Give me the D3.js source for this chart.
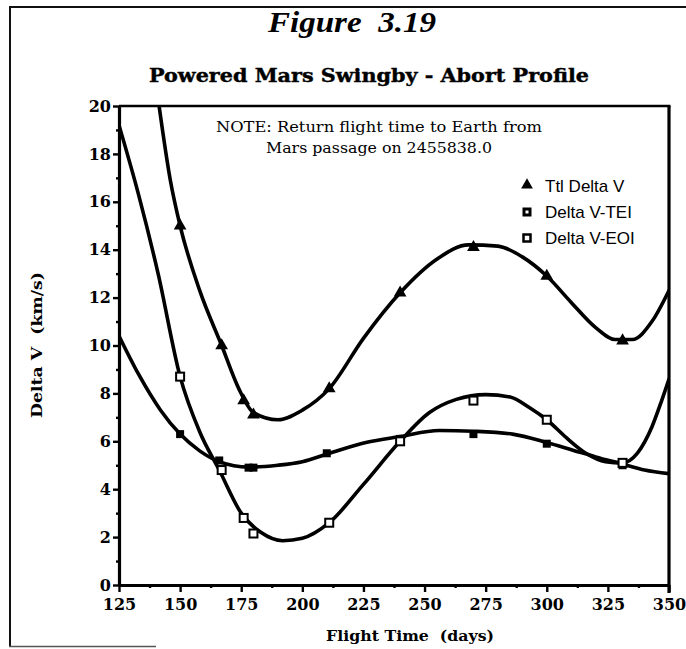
<!DOCTYPE html>
<html>
<head>
<meta charset="utf-8">
<script src="https://cdn.jsdelivr.net/npm/d3@7"></script>
<style>
  html, body { margin: 0; padding: 0; background: #fff; }
  svg { display: block; }
</style>
</head>
<body>
<svg id="chart" width="686" height="649"></svg>
<script>
// ---- Data ----
const xTicks = [125, 150, 175, 200, 225, 250, 275, 300, 325, 350];
const xMinorTicks = [137.5, 162.5, 187.5, 212.5, 237.5, 262.5, 287.5, 312.5, 337.5];
const yTicks = [0, 2, 4, 6, 8, 10, 12, 14, 16, 18, 20];
const yMinorTicks = [1, 3, 5, 7, 9, 11, 13, 15, 17, 19];

// Fitted curves (flight time in days, delta V in km/s)
const ttlCurveDays   = [141.4, 146, 150, 158, 167, 174, 180, 190, 200, 211, 225, 240, 255, 268, 280, 290, 300, 310, 320, 328, 335, 343, 350];
const ttlCurveValues = [20.0, 16.9, 15.0, 12.3, 10.0, 8.2, 7.2, 6.9, 7.3, 8.2, 10.3, 12.2, 13.6, 14.2, 14.15, 13.7, 12.9, 11.8, 10.75, 10.25, 10.25, 11.0, 12.3];

const teiCurveDays   = [125, 133, 142, 150, 158, 166, 178, 190, 200, 211, 226, 240, 256, 270, 286, 300, 311, 320, 331, 340, 350];
const teiCurveValues = [10.4, 8.8, 7.3, 6.3, 5.6, 5.15, 4.92, 5.0, 5.15, 5.5, 5.95, 6.2, 6.45, 6.42, 6.3, 5.95, 5.62, 5.35, 5.05, 4.8, 4.65];

const eoiCurveDays   = [125, 133, 141, 150, 158, 166, 175, 183, 192, 200, 211, 225, 240, 252, 263, 275, 285, 293, 300, 308, 316, 324, 331, 337, 343, 347, 350];
const eoiCurveValues = [19.2, 16.3, 13.0, 8.7, 6.4, 4.8, 3.0, 2.2, 1.85, 1.95, 2.6, 4.2, 6.0, 7.2, 7.75, 7.95, 7.85, 7.4, 6.9, 6.15, 5.5, 5.15, 5.1, 5.5, 6.6, 7.7, 8.6];

// Computed cases
const ttlPointDays   = [150, 167, 176, 180, 211, 240, 270, 300, 331];
const ttlPointValues = [15.0, 10.0, 7.7, 7.1, 8.2, 12.2, 14.1, 12.9, 10.2];
const teiPointDays   = [150, 166, 178, 180, 210, 240, 270, 300, 331];
const teiPointValues = [6.3, 5.2, 4.9, 4.9, 5.5, 6.1, 6.3, 5.9, 5.0];
const eoiPointDays   = [150, 167, 176, 180, 211, 240, 270, 300, 331];
const eoiPointValues = [8.7, 4.8, 2.8, 2.15, 2.6, 6.0, 7.7, 6.9, 5.1];

const legendLabels = ["Ttl Delta V", "Delta V-TEI", "Delta V-EOI"];

// ---- Layout ----
const svg = d3.select("#chart");
const serif = "'DejaVu Serif', 'Liberation Serif', serif";
const plotLeft = 119, plotRight = 669, plotTop = 106, plotBottom = 585;

const x = d3.scaleLinear().domain([125, 350]).range([plotLeft, plotRight]);
const y = d3.scaleLinear().domain([0, 20]).range([plotBottom, plotTop]);

// Outer frame of the figure
svg.append("line").attr("x1", 9).attr("x2", 686).attr("y1", 7).attr("y2", 7)
  .attr("stroke", "#111").attr("stroke-width", 2);
svg.append("line").attr("x1", 10).attr("x2", 10).attr("y1", 6).attr("y2", 647)
  .attr("stroke", "#111").attr("stroke-width", 2);
svg.append("line").attr("x1", 9).attr("x2", 156).attr("y1", 646.5).attr("y2", 646.5)
  .attr("stroke", "#555").attr("stroke-width", 1.5);

// Titles
svg.append("text").attr("x", 352).attr("y", 32).attr("text-anchor", "middle")
  .attr("font-family", "'Liberation Serif', 'Times New Roman', serif")
  .attr("font-style", "italic").attr("font-weight", "bold").attr("font-size", 30)
  .attr("textLength", 168).attr("lengthAdjust", "spacingAndGlyphs")
  .style("white-space", "pre")
  .text("Figure  3.19");

svg.append("text").attr("x", 369).attr("y", 82).attr("text-anchor", "middle")
  .attr("font-family", serif).attr("font-weight", "bold").attr("font-size", 18)
  .attr("stroke", "#000").attr("stroke-width", 0.4)
  .attr("textLength", 440).attr("lengthAdjust", "spacingAndGlyphs")
  .text("Powered Mars Swingby - Abort Profile");

// Note
svg.append("text").attr("x", 379).attr("y", 132).attr("text-anchor", "middle")
  .attr("font-family", serif).attr("font-size", 14)
  .attr("textLength", 326).attr("lengthAdjust", "spacingAndGlyphs")
  .text("NOTE: Return flight time to Earth from");
svg.append("text").attr("x", 379).attr("y", 153).attr("text-anchor", "middle")
  .attr("font-family", serif).attr("font-size", 14)
  .attr("textLength", 226).attr("lengthAdjust", "spacingAndGlyphs")
  .text("Mars passage on 2455838.0");

// ---- Axes ----
function styleAxis(g) {
  g.selectAll("path.domain").attr("stroke", "#000").attr("stroke-width", 3.2);
  g.selectAll(".tick line").attr("stroke", "#000").attr("stroke-width", 2.4);
  g.selectAll(".tick text").attr("font-family", serif).attr("font-weight", "bold")
    .attr("font-size", 16).attr("fill", "#000");
}

const yAxis = svg.append("g").attr("transform", `translate(${plotLeft},0)`)
  .call(d3.axisLeft(y).tickValues(yTicks).tickFormat(d3.format("d")).tickSize(6).tickSizeOuter(0).tickPadding(2));
styleAxis(yAxis);

const yMinor = svg.append("g").attr("transform", `translate(${plotLeft},0)`)
  .call(d3.axisLeft(y).tickValues(yMinorTicks).tickFormat("").tickSize(3).tickSizeOuter(0));
yMinor.select("path.domain").remove();
yMinor.selectAll(".tick line").attr("stroke", "#000").attr("stroke-width", 2.4);

const xAxis = svg.append("g").attr("transform", `translate(0,${plotBottom})`)
  .call(d3.axisBottom(x).tickValues(xTicks).tickFormat(d3.format("d")).tickSize(7).tickSizeOuter(0).tickPadding(7));
styleAxis(xAxis);

const xMinor = svg.append("g").attr("transform", `translate(0,${plotBottom})`)
  .call(d3.axisBottom(x).tickValues(xMinorTicks).tickFormat("").tickSize(3).tickSizeOuter(0));
xMinor.select("path.domain").remove();
xMinor.selectAll(".tick line").attr("stroke", "#000").attr("stroke-width", 2.4);

// Top and right frame of the plot
svg.append("line").attr("x1", plotLeft).attr("x2", plotRight + 1.5).attr("y1", plotTop).attr("y2", plotTop)
  .attr("stroke", "#000").attr("stroke-width", 2.6);
svg.append("line").attr("x1", plotRight).attr("x2", plotRight).attr("y1", plotTop).attr("y2", plotBottom + 8)
  .attr("stroke", "#000").attr("stroke-width", 3.2);

// Axis titles
svg.append("text").attr("x", 410).attr("y", 641).attr("text-anchor", "middle")
  .attr("font-family", serif).attr("font-weight", "bold").attr("font-size", 14)
  .attr("textLength", 168).attr("lengthAdjust", "spacingAndGlyphs")
  .style("white-space", "pre")
  .text("Flight Time  (days)");

svg.append("text").attr("transform", "translate(42,345) rotate(-90)").attr("text-anchor", "middle")
  .attr("font-family", serif).attr("font-weight", "bold").attr("font-size", 14)
  .attr("textLength", 146).attr("lengthAdjust", "spacingAndGlyphs")
  .style("white-space", "pre")
  .text("Delta V  (km/s)");

// ---- Curves ----
svg.append("clipPath").attr("id", "plot-clip")
  .append("rect").attr("x", plotLeft).attr("y", plotTop)
  .attr("width", plotRight - plotLeft).attr("height", plotBottom - plotTop);

const line = d3.line()
  .x(d => x(d[0])).y(d => y(d[1]))
  .curve(d3.curveMonotoneX);

const curves = [
  d3.zip(ttlCurveDays, ttlCurveValues),
  d3.zip(teiCurveDays, teiCurveValues),
  d3.zip(eoiCurveDays, eoiCurveValues)
];

svg.append("g").attr("clip-path", "url(#plot-clip)")
  .selectAll("path").data(curves).join("path")
  .attr("d", line)
  .attr("fill", "none").attr("stroke", "#000").attr("stroke-width", 3.6)
  .attr("stroke-linejoin", "round").attr("stroke-linecap", "round");

// ---- Markers ----
const tri = d3.symbol().type(d3.symbolTriangle).size(70);
const sq = 8;

svg.append("g").selectAll("path").data(d3.zip(ttlPointDays, ttlPointValues)).join("path")
  .attr("transform", d => `translate(${x(d[0])},${y(d[1])})`)
  .attr("d", tri).attr("fill", "#000");

svg.append("g").selectAll("rect").data(d3.zip(teiPointDays, teiPointValues)).join("rect")
  .attr("x", d => x(d[0]) - sq / 2).attr("y", d => y(d[1]) - sq / 2)
  .attr("width", sq).attr("height", sq).attr("fill", "#000");

svg.append("g").selectAll("rect").data(d3.zip(eoiPointDays, eoiPointValues)).join("rect")
  .attr("x", d => x(d[0]) - sq / 2).attr("y", d => y(d[1]) - sq / 2)
  .attr("width", sq).attr("height", sq).attr("fill", "#fff")
  .attr("stroke", "#000").attr("stroke-width", 2);

// ---- Legend ----
const legend = svg.append("g").attr("transform", "translate(527,186)");
legend.selectAll("text").data(legendLabels).join("text")
  .attr("x", 18).attr("y", (d, i) => i * 26 + 6)
  .attr("font-family", "'Liberation Sans', Arial, sans-serif").attr("font-size", 17)
  .attr("fill", "#000").text(d => d);

legend.append("path").attr("d", d3.symbol().type(d3.symbolTriangle).size(60)).attr("fill", "#000")
  .attr("transform", "translate(0,-1)");
legend.append("rect").attr("x", -4.5).attr("y", 26 - 4.5).attr("width", 9).attr("height", 9)
  .attr("fill", "#000");
legend.append("rect").attr("x", -1.5).attr("y", 26 - 1.5).attr("width", 3).attr("height", 3)
  .attr("fill", "#fff");
legend.append("rect").attr("x", -3.5).attr("y", 52 - 3.5).attr("width", 7).attr("height", 7)
  .attr("fill", "#fff").attr("stroke", "#000").attr("stroke-width", 2.5);
</script>
</body>
</html>
